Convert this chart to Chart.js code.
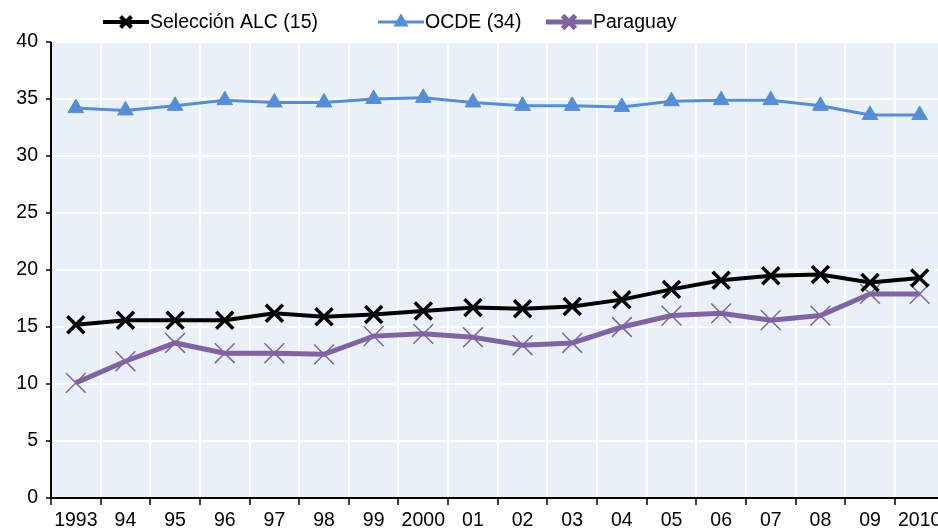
<!DOCTYPE html>
<html>
<head>
<meta charset="utf-8">
<script src="https://cdn.jsdelivr.net/npm/chart.js@4/dist/chart.umd.min.js"></script>
<style>
  html, body { margin: 0; padding: 0; background: #fff; overflow: hidden; }
  #wrap { width: 938px; height: 529px; overflow: hidden; }
</style>
</head>
<body>
<div id="wrap"><canvas id="chart" width="960" height="529"></canvas></div>
<script>
// años
const years = ['1993', '94', '95', '96', '97', '98', '99', '2000', '01', '02', '03', '04', '05', '06', '07', '08', '09', '2010'];

// series
const alc = [15.2, 15.6, 15.6, 15.6, 16.2, 15.9, 16.1, 16.4, 16.7, 16.6, 16.8, 17.4, 18.3, 19.1, 19.5, 19.6, 18.9, 19.3];
const ocde = [34.2, 34.0, 34.4, 34.9, 34.7, 34.7, 35.0, 35.1, 34.7, 34.4, 34.4, 34.3, 34.8, 34.9, 34.9, 34.4, 33.6, 33.6];
const paraguay = [10.1, 12.0, 13.6, 12.7, 12.7, 12.6, 14.2, 14.4, 14.1, 13.4, 13.6, 15.0, 16.0, 16.2, 15.6, 16.0, 17.9, 17.9];

const FONT = '"Liberation Sans Narrow", "Liberation Sans", Arial, sans-serif';

// fondo del área de trazado + ejes negros
const plotBg = {
    id: 'plotBg',
    beforeDraw(chart) {
        const { ctx, chartArea: a } = chart;
        ctx.save();
        ctx.fillStyle = '#eaf0f8';
        ctx.fillRect(a.left, a.top, a.right - a.left, a.bottom - a.top);
        ctx.restore();
    },
    afterDatasetsDraw(chart) {
        const { ctx, chartArea: a } = chart;
        ctx.save();
        ctx.strokeStyle = '#000';
        ctx.lineWidth = 2;
        ctx.beginPath();
        ctx.moveTo(a.left, a.top);
        ctx.lineTo(a.left, a.bottom);
        ctx.lineTo(a.right, a.bottom);
        ctx.stroke();
        ctx.restore();
    }
};

// leyenda con línea + marcador
const lineLegend = {
    id: 'lineLegend',
    afterDraw(chart) {
        const { ctx } = chart;
        const items = [
            { ds: 0, x: 103 },
            { ds: 1, x: 378 },
            { ds: 2, x: 546 }
        ];
        const y = 22;
        ctx.save();
        ctx.font = '19.5px ' + FONT;
        ctx.textBaseline = 'middle';
        items.forEach(it => {
            const ds = chart.data.datasets[it.ds];
            ctx.strokeStyle = ds.borderColor;
            ctx.lineWidth = ds.borderWidth;
            ctx.beginPath();
            ctx.moveTo(it.x, y);
            ctx.lineTo(it.x + 46, y);
            ctx.stroke();
            ctx.strokeStyle = ds.pointBorderColor;
            ctx.fillStyle = ds.pointBackgroundColor || ds.pointBorderColor;
            Chart.helpers.drawPoint(ctx, {
                pointStyle: ds.pointStyle,
                radius: ds.pointRadius * 0.65,
                borderWidth: ds.pointBorderWidth
            }, it.x + 23, y);
            ctx.fillStyle = '#000';
            ctx.fillText(ds.label, it.x + 47, y + 1);
        });
        ctx.restore();
    }
};

new Chart(document.getElementById('chart'), {
    type: 'line',
    data: {
        labels: years,
        datasets: [
            {
                label: 'Selección ALC (15)', data: alc,
                borderColor: '#000', backgroundColor: '#000', borderWidth: 4,
                pointStyle: 'crossRot', pointRadius: 12, pointBorderWidth: 3.5,
                pointBorderColor: '#000', tension: 0, order: 1
            },
            {
                label: 'OCDE (34)', data: ocde,
                borderColor: '#558ed5', backgroundColor: '#558ed5', borderWidth: 3,
                pointStyle: 'triangle', pointRadius: 9, pointBorderWidth: 1,
                pointBackgroundColor: '#558ed5', pointBorderColor: '#558ed5', tension: 0, order: 2
            },
            {
                label: 'Paraguay', data: paraguay,
                borderColor: '#8064a2', backgroundColor: '#8064a2', borderWidth: 5,
                pointStyle: 'crossRot', pointRadius: 14, pointBorderWidth: 1.5,
                pointBorderColor: '#8064a2', tension: 0, order: 3
            }
        ]
    },
    options: {
        responsive: false,
        animation: false,
        layout: { padding: { top: 42, right: 0, left: 0, bottom: 0 } },
        scales: {
            x: {
                offset: true,
                grid: { offset: true, color: '#fff', lineWidth: 2, drawTicks: true, tickLength: 7, tickColor: '#000', tickWidth: 1.5 },
                border: { display: false },
                ticks: { color: '#000', font: { family: FONT, size: 19.5 }, maxRotation: 0, autoSkip: false, padding: 4 },
                afterFit(s) { s.height = 31; }
            },
            y: {
                min: 0, max: 40,
                grid: { color: '#fff', lineWidth: 2, tickLength: 5, tickColor: '#000', tickWidth: 1.5 },
                border: { display: false },
                ticks: { stepSize: 5, color: '#000', font: { family: FONT, size: 19.5 }, padding: 8 },
                afterFit(s) { s.width = 51; }
            }
        },
        plugins: {
            legend: { display: false },
            tooltip: { enabled: false }
        }
    },
    plugins: [plotBg, lineLegend]
});
</script>
</body>
</html>
